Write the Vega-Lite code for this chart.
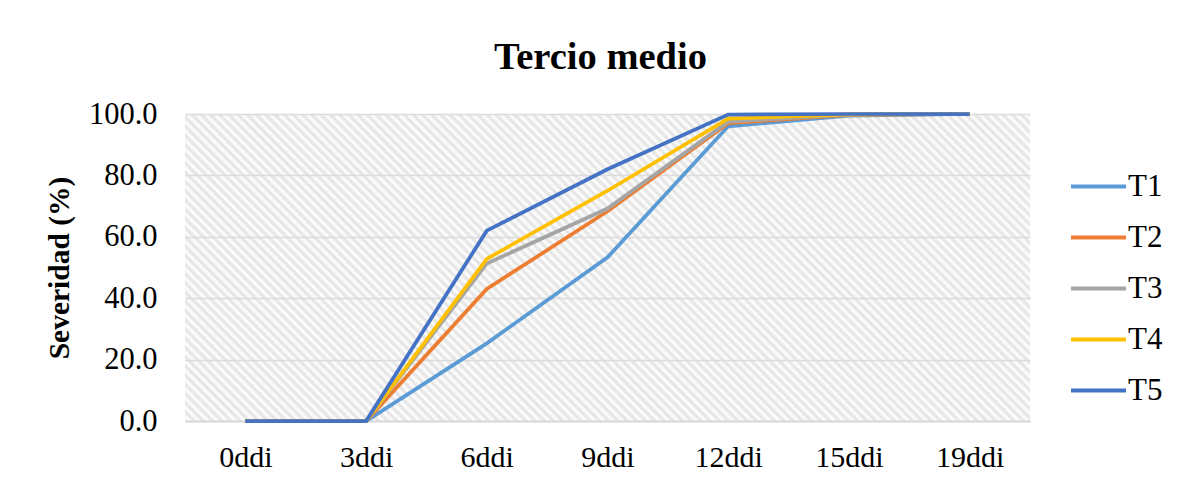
{
  "$schema": "https://vega.github.io/schema/vega-lite/v6.json",
  "autosize": {"type": "none"},
  "width": 845,
  "height": 307,
  "padding": {"left": 185, "top": 114, "right": 147, "bottom": 64},
  "background": "white",
  "title": {"text": "Tercio medio", "font": "Liberation Serif", "fontSize": 38.5, "fontWeight": "bold", "color": "black", "anchor": "middle", "dx": -7, "offset": 22},
  "view": {"stroke": null, "fill": {"gradient": "linear", "x1": 0, "y1": 1, "x2": 1.2043, "y2": 0.5625, "stops": [
    {"offset":0.000,"color":"#e2e2e2"},{"offset":0.004,"color":"#fff"},{"offset":0.008,"color":"#e2e2e2"},{"offset":0.012,"color":"#fff"},{"offset":0.016,"color":"#e2e2e2"},{"offset":0.020,"color":"#fff"},{"offset":0.024,"color":"#e2e2e2"},{"offset":0.028,"color":"#fff"},{"offset":0.032,"color":"#e2e2e2"},{"offset":0.036,"color":"#fff"},{"offset":0.040,"color":"#e2e2e2"},{"offset":0.044,"color":"#fff"},{"offset":0.048,"color":"#e2e2e2"},{"offset":0.052,"color":"#fff"},{"offset":0.056,"color":"#e2e2e2"},{"offset":0.060,"color":"#fff"},{"offset":0.064,"color":"#e2e2e2"},{"offset":0.068,"color":"#fff"},{"offset":0.072,"color":"#e2e2e2"},{"offset":0.076,"color":"#fff"},{"offset":0.080,"color":"#e2e2e2"},{"offset":0.084,"color":"#fff"},{"offset":0.088,"color":"#e2e2e2"},{"offset":0.092,"color":"#fff"},{"offset":0.096,"color":"#e2e2e2"},
    {"offset":0.100,"color":"#fff"},{"offset":0.104,"color":"#e2e2e2"},{"offset":0.108,"color":"#fff"},{"offset":0.112,"color":"#e2e2e2"},{"offset":0.116,"color":"#fff"},{"offset":0.120,"color":"#e2e2e2"},{"offset":0.124,"color":"#fff"},{"offset":0.128,"color":"#e2e2e2"},{"offset":0.132,"color":"#fff"},{"offset":0.136,"color":"#e2e2e2"},{"offset":0.140,"color":"#fff"},{"offset":0.144,"color":"#e2e2e2"},{"offset":0.148,"color":"#fff"},{"offset":0.152,"color":"#e2e2e2"},{"offset":0.156,"color":"#fff"},{"offset":0.160,"color":"#e2e2e2"},{"offset":0.164,"color":"#fff"},{"offset":0.168,"color":"#e2e2e2"},{"offset":0.172,"color":"#fff"},{"offset":0.176,"color":"#e2e2e2"},{"offset":0.180,"color":"#fff"},{"offset":0.184,"color":"#e2e2e2"},{"offset":0.188,"color":"#fff"},{"offset":0.192,"color":"#e2e2e2"},{"offset":0.196,"color":"#fff"},
    {"offset":0.200,"color":"#e2e2e2"},{"offset":0.204,"color":"#fff"},{"offset":0.208,"color":"#e2e2e2"},{"offset":0.212,"color":"#fff"},{"offset":0.216,"color":"#e2e2e2"},{"offset":0.220,"color":"#fff"},{"offset":0.224,"color":"#e2e2e2"},{"offset":0.228,"color":"#fff"},{"offset":0.232,"color":"#e2e2e2"},{"offset":0.236,"color":"#fff"},{"offset":0.240,"color":"#e2e2e2"},{"offset":0.244,"color":"#fff"},{"offset":0.248,"color":"#e2e2e2"},{"offset":0.252,"color":"#fff"},{"offset":0.256,"color":"#e2e2e2"},{"offset":0.260,"color":"#fff"},{"offset":0.264,"color":"#e2e2e2"},{"offset":0.268,"color":"#fff"},{"offset":0.272,"color":"#e2e2e2"},{"offset":0.276,"color":"#fff"},{"offset":0.280,"color":"#e2e2e2"},{"offset":0.284,"color":"#fff"},{"offset":0.288,"color":"#e2e2e2"},{"offset":0.292,"color":"#fff"},{"offset":0.296,"color":"#e2e2e2"},
    {"offset":0.300,"color":"#fff"},{"offset":0.304,"color":"#e2e2e2"},{"offset":0.308,"color":"#fff"},{"offset":0.312,"color":"#e2e2e2"},{"offset":0.316,"color":"#fff"},{"offset":0.320,"color":"#e2e2e2"},{"offset":0.324,"color":"#fff"},{"offset":0.328,"color":"#e2e2e2"},{"offset":0.332,"color":"#fff"},{"offset":0.336,"color":"#e2e2e2"},{"offset":0.340,"color":"#fff"},{"offset":0.344,"color":"#e2e2e2"},{"offset":0.348,"color":"#fff"},{"offset":0.352,"color":"#e2e2e2"},{"offset":0.356,"color":"#fff"},{"offset":0.360,"color":"#e2e2e2"},{"offset":0.364,"color":"#fff"},{"offset":0.368,"color":"#e2e2e2"},{"offset":0.372,"color":"#fff"},{"offset":0.376,"color":"#e2e2e2"},{"offset":0.380,"color":"#fff"},{"offset":0.384,"color":"#e2e2e2"},{"offset":0.388,"color":"#fff"},{"offset":0.392,"color":"#e2e2e2"},{"offset":0.396,"color":"#fff"},
    {"offset":0.400,"color":"#e2e2e2"},{"offset":0.404,"color":"#fff"},{"offset":0.408,"color":"#e2e2e2"},{"offset":0.412,"color":"#fff"},{"offset":0.416,"color":"#e2e2e2"},{"offset":0.420,"color":"#fff"},{"offset":0.424,"color":"#e2e2e2"},{"offset":0.428,"color":"#fff"},{"offset":0.432,"color":"#e2e2e2"},{"offset":0.436,"color":"#fff"},{"offset":0.440,"color":"#e2e2e2"},{"offset":0.444,"color":"#fff"},{"offset":0.448,"color":"#e2e2e2"},{"offset":0.452,"color":"#fff"},{"offset":0.456,"color":"#e2e2e2"},{"offset":0.460,"color":"#fff"},{"offset":0.464,"color":"#e2e2e2"},{"offset":0.468,"color":"#fff"},{"offset":0.472,"color":"#e2e2e2"},{"offset":0.476,"color":"#fff"},{"offset":0.480,"color":"#e2e2e2"},{"offset":0.484,"color":"#fff"},{"offset":0.488,"color":"#e2e2e2"},{"offset":0.492,"color":"#fff"},{"offset":0.496,"color":"#e2e2e2"},
    {"offset":0.500,"color":"#fff"},{"offset":0.504,"color":"#e2e2e2"},{"offset":0.508,"color":"#fff"},{"offset":0.512,"color":"#e2e2e2"},{"offset":0.516,"color":"#fff"},{"offset":0.520,"color":"#e2e2e2"},{"offset":0.524,"color":"#fff"},{"offset":0.528,"color":"#e2e2e2"},{"offset":0.532,"color":"#fff"},{"offset":0.536,"color":"#e2e2e2"},{"offset":0.540,"color":"#fff"},{"offset":0.544,"color":"#e2e2e2"},{"offset":0.548,"color":"#fff"},{"offset":0.552,"color":"#e2e2e2"},{"offset":0.556,"color":"#fff"},{"offset":0.560,"color":"#e2e2e2"},{"offset":0.564,"color":"#fff"},{"offset":0.568,"color":"#e2e2e2"},{"offset":0.572,"color":"#fff"},{"offset":0.576,"color":"#e2e2e2"},{"offset":0.580,"color":"#fff"},{"offset":0.584,"color":"#e2e2e2"},{"offset":0.588,"color":"#fff"},{"offset":0.592,"color":"#e2e2e2"},{"offset":0.596,"color":"#fff"},
    {"offset":0.600,"color":"#e2e2e2"},{"offset":0.604,"color":"#fff"},{"offset":0.608,"color":"#e2e2e2"},{"offset":0.612,"color":"#fff"},{"offset":0.616,"color":"#e2e2e2"},{"offset":0.620,"color":"#fff"},{"offset":0.624,"color":"#e2e2e2"},{"offset":0.628,"color":"#fff"},{"offset":0.632,"color":"#e2e2e2"},{"offset":0.636,"color":"#fff"},{"offset":0.640,"color":"#e2e2e2"},{"offset":0.644,"color":"#fff"},{"offset":0.648,"color":"#e2e2e2"},{"offset":0.652,"color":"#fff"},{"offset":0.656,"color":"#e2e2e2"},{"offset":0.660,"color":"#fff"},{"offset":0.664,"color":"#e2e2e2"},{"offset":0.668,"color":"#fff"},{"offset":0.672,"color":"#e2e2e2"},{"offset":0.676,"color":"#fff"},{"offset":0.680,"color":"#e2e2e2"},{"offset":0.684,"color":"#fff"},{"offset":0.688,"color":"#e2e2e2"},{"offset":0.692,"color":"#fff"},{"offset":0.696,"color":"#e2e2e2"},
    {"offset":0.700,"color":"#fff"},{"offset":0.704,"color":"#e2e2e2"},{"offset":0.708,"color":"#fff"},{"offset":0.712,"color":"#e2e2e2"},{"offset":0.716,"color":"#fff"},{"offset":0.720,"color":"#e2e2e2"},{"offset":0.724,"color":"#fff"},{"offset":0.728,"color":"#e2e2e2"},{"offset":0.732,"color":"#fff"},{"offset":0.736,"color":"#e2e2e2"},{"offset":0.740,"color":"#fff"},{"offset":0.744,"color":"#e2e2e2"},{"offset":0.748,"color":"#fff"},{"offset":0.752,"color":"#e2e2e2"},{"offset":0.756,"color":"#fff"},{"offset":0.760,"color":"#e2e2e2"},{"offset":0.764,"color":"#fff"},{"offset":0.768,"color":"#e2e2e2"},{"offset":0.772,"color":"#fff"},{"offset":0.776,"color":"#e2e2e2"},{"offset":0.780,"color":"#fff"},{"offset":0.784,"color":"#e2e2e2"},{"offset":0.788,"color":"#fff"},{"offset":0.792,"color":"#e2e2e2"},{"offset":0.796,"color":"#fff"},
    {"offset":0.800,"color":"#e2e2e2"},{"offset":0.804,"color":"#fff"},{"offset":0.808,"color":"#e2e2e2"},{"offset":0.812,"color":"#fff"},{"offset":0.816,"color":"#e2e2e2"},{"offset":0.820,"color":"#fff"},{"offset":0.824,"color":"#e2e2e2"},{"offset":0.828,"color":"#fff"},{"offset":0.832,"color":"#e2e2e2"},{"offset":0.836,"color":"#fff"},{"offset":0.840,"color":"#e2e2e2"},{"offset":0.844,"color":"#fff"},{"offset":0.848,"color":"#e2e2e2"},{"offset":0.852,"color":"#fff"},{"offset":0.856,"color":"#e2e2e2"},{"offset":0.860,"color":"#fff"},{"offset":0.864,"color":"#e2e2e2"},{"offset":0.868,"color":"#fff"},{"offset":0.872,"color":"#e2e2e2"},{"offset":0.876,"color":"#fff"},{"offset":0.880,"color":"#e2e2e2"},{"offset":0.884,"color":"#fff"},{"offset":0.888,"color":"#e2e2e2"},{"offset":0.892,"color":"#fff"},{"offset":0.896,"color":"#e2e2e2"},
    {"offset":0.900,"color":"#fff"},{"offset":0.904,"color":"#e2e2e2"},{"offset":0.908,"color":"#fff"},{"offset":0.912,"color":"#e2e2e2"},{"offset":0.916,"color":"#fff"},{"offset":0.920,"color":"#e2e2e2"},{"offset":0.924,"color":"#fff"},{"offset":0.928,"color":"#e2e2e2"},{"offset":0.932,"color":"#fff"},{"offset":0.936,"color":"#e2e2e2"},{"offset":0.940,"color":"#fff"},{"offset":0.944,"color":"#e2e2e2"},{"offset":0.948,"color":"#fff"},{"offset":0.952,"color":"#e2e2e2"},{"offset":0.956,"color":"#fff"},{"offset":0.960,"color":"#e2e2e2"},{"offset":0.964,"color":"#fff"},{"offset":0.968,"color":"#e2e2e2"},{"offset":0.972,"color":"#fff"},{"offset":0.976,"color":"#e2e2e2"},{"offset":0.980,"color":"#fff"},{"offset":0.984,"color":"#e2e2e2"},{"offset":0.988,"color":"#fff"},{"offset":0.992,"color":"#e2e2e2"},{"offset":0.996,"color":"#fff"},
    {"offset":1.000,"color":"#e2e2e2"}
  ]}},
  "data": {"values": [
    {"dia": "0ddi", "trat": "T1", "sev": 0}, {"dia": "3ddi", "trat": "T1", "sev": 0}, {"dia": "6ddi", "trat": "T1", "sev": 25.3}, {"dia": "9ddi", "trat": "T1", "sev": 53.3}, {"dia": "12ddi", "trat": "T1", "sev": 96.0}, {"dia": "15ddi", "trat": "T1", "sev": 99.5}, {"dia": "19ddi", "trat": "T1", "sev": 100},
    {"dia": "0ddi", "trat": "T2", "sev": 0}, {"dia": "3ddi", "trat": "T2", "sev": 0}, {"dia": "6ddi", "trat": "T2", "sev": 43.0}, {"dia": "9ddi", "trat": "T2", "sev": 68.3}, {"dia": "12ddi", "trat": "T2", "sev": 97.0}, {"dia": "15ddi", "trat": "T2", "sev": 99.7}, {"dia": "19ddi", "trat": "T2", "sev": 100},
    {"dia": "0ddi", "trat": "T3", "sev": 0}, {"dia": "3ddi", "trat": "T3", "sev": 0}, {"dia": "6ddi", "trat": "T3", "sev": 51.3}, {"dia": "9ddi", "trat": "T3", "sev": 69.2}, {"dia": "12ddi", "trat": "T3", "sev": 97.5}, {"dia": "15ddi", "trat": "T3", "sev": 99.8}, {"dia": "19ddi", "trat": "T3", "sev": 100},
    {"dia": "0ddi", "trat": "T4", "sev": 0}, {"dia": "3ddi", "trat": "T4", "sev": 0}, {"dia": "6ddi", "trat": "T4", "sev": 52.8}, {"dia": "9ddi", "trat": "T4", "sev": 75.0}, {"dia": "12ddi", "trat": "T4", "sev": 98.5}, {"dia": "15ddi", "trat": "T4", "sev": 99.9}, {"dia": "19ddi", "trat": "T4", "sev": 100},
    {"dia": "0ddi", "trat": "T5", "sev": 0}, {"dia": "3ddi", "trat": "T5", "sev": 0}, {"dia": "6ddi", "trat": "T5", "sev": 62.0}, {"dia": "9ddi", "trat": "T5", "sev": 82.0}, {"dia": "12ddi", "trat": "T5", "sev": 99.8}, {"dia": "15ddi", "trat": "T5", "sev": 100}, {"dia": "19ddi", "trat": "T5", "sev": 100}
  ]},
  "mark": {"type": "line", "strokeWidth": 3.75, "clip": false},
  "encoding": {
    "x": {"field": "dia", "type": "ordinal", "sort": null,
      "scale": {"domain": ["0ddi", "3ddi", "6ddi", "9ddi", "12ddi", "15ddi", "19ddi"], "padding": 0.5},
      "axis": {"title": null, "labelFont": "Liberation Serif", "labelFontSize": 30, "labelColor": "black", "labelAngle": 0, "labelPadding": 21, "ticks": false, "domain": true, "domainColor": "#d9d9d9", "domainWidth": 2, "grid": false}},
    "y": {"field": "sev", "type": "quantitative",
      "scale": {"domain": [0, 100], "nice": false, "zero": true},
      "axis": {"title": "Severidad (%)", "titleFont": "Liberation Serif", "titleFontSize": 29.5, "titleFontWeight": "bold", "titleColor": "black", "titlePadding": 14,
        "values": [0, 20, 40, 60, 80, 100], "format": ".1f", "labelFont": "Liberation Serif", "labelFontSize": 30.5, "labelColor": "black", "labelPadding": 28,
        "ticks": false, "domain": false, "grid": true, "gridColor": "#dcdcdc", "gridWidth": 1.5}},
    "color": {"field": "trat", "type": "nominal",
      "scale": {"domain": ["T1", "T2", "T3", "T4", "T5"], "range": ["#5b9bd5", "#ed7d31", "#a5a5a5", "#ffc000", "#4472c4"]},
      "legend": {"title": null, "orient": "none", "legendX": 884, "legendY": 43, "symbolType": "stroke", "symbolSize": 3025, "symbolStrokeWidth": 4,
        "labelFont": "Liberation Serif", "labelFontSize": 31, "labelColor": "black", "labelOffset": 0, "rowPadding": 6, "padding": 0}}
  }
}
